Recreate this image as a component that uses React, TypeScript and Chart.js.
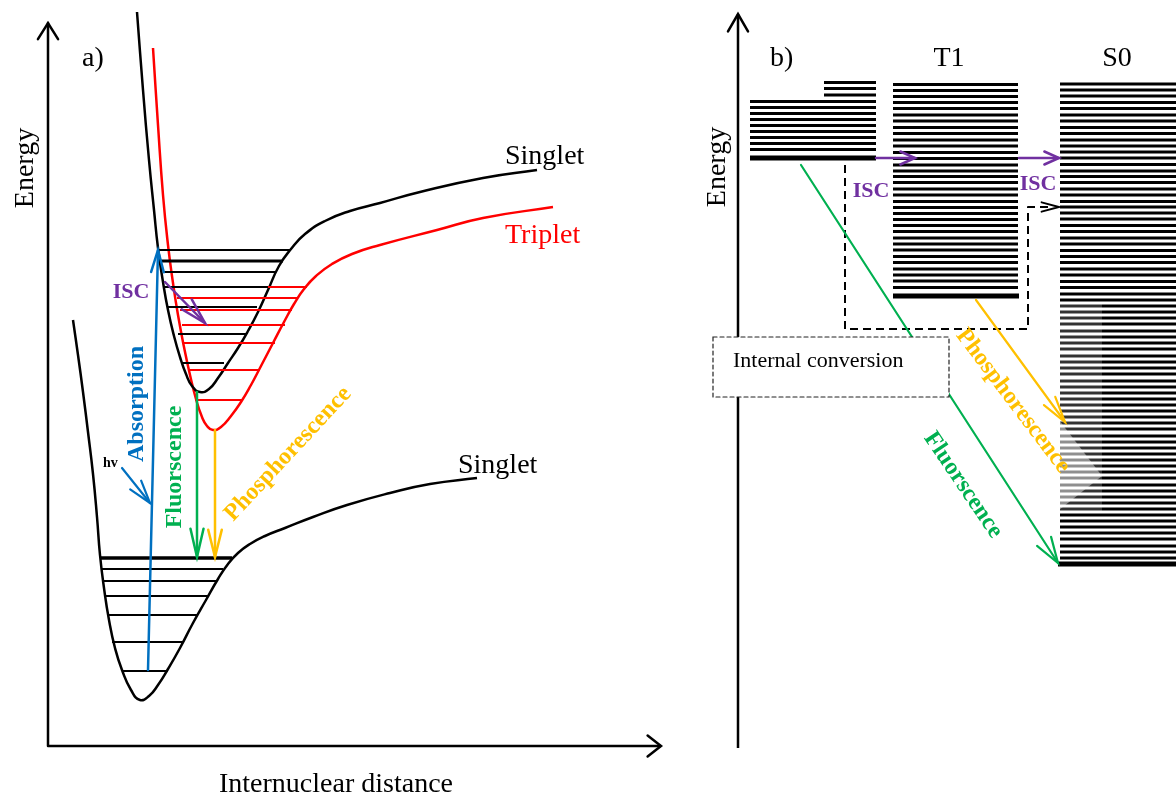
import React, { useEffect, useRef } from 'react';
import { Chart, registerables } from 'chart.js';

Chart.register(...registerables);

const W = 1176;
const H = 796;
const FONT = "'Liberation Serif','Times New Roman',serif";

const RED = '#FF0000';
const BLUE = '#0070C0';
const GREEN = '#00B050';
const YELLOW = '#FFC000';
const PURPLE = '#7030A0';

// ---------- Panel a: potential energy curves (x = internuclear distance, y = energy, top-down) ----------
const S1_CURVE: number[][] = [
  [137, 12], [143, 90], [149, 160], [154, 210], [158, 248], [163, 282], [168, 310], [174, 336],
  [180, 357], [186, 374], [192, 386], [200, 392], [209, 389], [218, 378], [228, 363],
  [238, 348], [248, 331], [258, 312], [268, 290], [279, 266], [291, 249], [305, 234], [325, 221],
  [350, 211], [380, 203], [420, 192], [483, 178], [537, 170],
];
const T1_CURVE: number[][] = [
  [153, 48], [158, 125], [163, 195], [168, 245], [173, 283], [178, 315], [184, 347], [190, 375],
  [196, 399], [202, 417], [207, 426], [213, 430], [221, 427], [231, 416], [241, 402],
  [251, 385], [261, 366], [273, 343], [284, 322], [294, 304], [304, 289], [316, 276],
  [332, 264], [352, 254], [380, 245], [437, 230], [483, 218], [553, 207],
];
const S0_CURVE: number[][] = [
  [73, 320], [78, 355], [83, 392], [88, 432], [93, 474], [97, 517], [100, 555], [104, 588],
  [109, 620], [115, 648], [122, 670], [131, 690], [140, 700], [149, 696], [158, 685],
  [168, 669], [180, 648], [193, 623], [206, 600], [218, 579], [228, 564], [238, 553], [250, 544],
  [265, 536], [285, 528], [313, 517], [347, 505], [390, 493], [430, 484], [477, 478],
];

// vibrational levels: [energy, xLeft, xRight]
const S1_LEVELS: number[][] = [
  [250, 158, 291], [272, 163, 276], [287, 164, 268], [307, 168, 257], [334, 178, 247], [363, 182, 224],
];
const S1_LEVELS_THICK: number[][] = [[261, 160, 283]];
const T1_LEVELS: number[][] = [
  [287, 175, 307], [298, 177, 298], [310, 180, 292], [325, 182, 285], [343, 183, 275], [370, 188, 260], [400, 195, 242],
];
const S0_LEVELS: number[][] = [
  [569, 102, 223], [581, 103, 217], [596, 105, 208], [615, 108, 197], [642, 112, 183], [671, 122, 168],
];
const S0_LEVELS_THICK: number[][] = [[558, 100, 232]];

// ---------- Panel b: level stacks (energies) ----------
const B_S1_SHORT = [82.5, 88.5, 95];
const B_S1 = [101.5, 107.5, 113.5, 119.5, 125.5, 131.5, 137.5, 143.5, 149.5];
const B_S1_BOTTOM = [158];
const B_T1 = [
  84.5, 90.5, 96.5, 102.5, 108.5, 115, 121, 127.5, 133.5, 140, 146, 152.5, 158.5, 165, 171, 176.5,
  182.5, 189, 195, 201.5, 207.5, 213.5, 219.5, 225.5, 231.5, 238, 244, 250, 256.5, 262.5, 269, 275,
  281, 287.5,
];
const B_T1_BOTTOM = [296];
const B_S0 = [
  84, 90, 96, 102.5, 108.5, 115, 121, 127.5, 133.5, 140, 146, 152, 158, 164.5, 171, 176.5, 182.5,
  189, 195, 201.5, 207, 213, 219, 225.5, 231.5, 238, 244, 250.5, 256.5, 262.5, 269, 275, 281.5,
  287.5, 294, 300, 306, 312, 318, 324, 331, 337, 343, 349, 356, 362, 368, 374, 381, 387, 393, 399,
  405, 411, 417, 423, 429, 436, 442, 448, 454, 460, 466, 472, 478, 485, 491, 497, 503, 509, 515,
  521, 527, 533, 539, 546, 552, 558,
];
const B_S0_BOTTOM = [564];

// ---------- axes, paths ----------
const AXIS_A: number[][] = [[48, 23], [48, 746], [661, 746]];
const AXIS_B: number[][] = [[738, 748], [738, 14]];
const IC_PATH: number[][] = [[845, 165], [845, 329], [1028, 329], [1028, 207], [1052, 207]];

// arrows: from -> to
const ARROWS = [
  { from: [48, 40], to: [48, 23], color: '#000', w: 2.5, len: 19, ang: 32, noShaft: true },
  { from: [640, 746], to: [661, 746], color: '#000', w: 2.5, len: 17, ang: 38, noShaft: true },
  { from: [738, 40], to: [738, 14], color: '#000', w: 2.5, len: 20, ang: 30, noShaft: true },
  { from: [148, 670], to: [158, 250], color: BLUE, w: 2.5, len: 23, ang: 16 },
  { from: [122, 468], to: [150, 503], color: BLUE, w: 2.2, len: 24, ang: 17 },
  { from: [165, 282], to: [205, 323], color: PURPLE, w: 2.5, len: 27, ang: 15 },
  { from: [197, 392], to: [197, 557], color: GREEN, w: 2.5, len: 29, ang: 13 },
  { from: [215, 430], to: [215, 557], color: YELLOW, w: 2.5, len: 28, ang: 14 },
  { from: [876, 158], to: [915, 158], color: PURPLE, w: 2.5, len: 16, ang: 24 },
  { from: [1019, 158], to: [1059, 158], color: PURPLE, w: 2.5, len: 16, ang: 24 },
  { from: [1045, 207], to: [1059, 207], color: '#000', w: 2, len: 18, ang: 15, noShaft: true },
  { from: [801, 165], to: [1058, 563], color: GREEN, w: 2.2, len: 27, ang: 18 },
  { from: [976, 300], to: [1065, 422], color: YELLOW, w: 2.2, len: 27, ang: 15 },
];

const LABELS = [
  { t: 'a)', x: 82, y: 66, size: 28, align: 'left' },
  { t: 'Energy', x: 33, y: 168, size: 28, rot: -90 },
  { t: 'Internuclear distance', x: 336, y: 792, size: 28 },
  { t: 'Singlet', x: 505, y: 164, size: 28, align: 'left' },
  { t: 'Triplet', x: 505, y: 243, size: 28, align: 'left', color: RED },
  { t: 'Singlet', x: 458, y: 473, size: 28, align: 'left' },
  { t: 'ISC', x: 131, y: 298, size: 22, bold: true, color: PURPLE },
  { t: 'Absorption', x: 143, y: 404, size: 24, bold: true, color: BLUE, rot: -90 },
  { t: 'Fluorscence', x: 181, y: 467, size: 24, bold: true, color: GREEN, rot: -90 },
  { t: 'Phosphorescence', x: 288, y: 454, size: 24, bold: true, color: YELLOW, rot: -47, mid: true },
  { t: 'hv', x: 103, y: 467, size: 14, bold: true, align: 'left' },
  { t: 'b)', x: 770, y: 66, size: 28, align: 'left' },
  { t: 'T1', x: 949, y: 66, size: 28 },
  { t: 'S0', x: 1117, y: 66, size: 28 },
  { t: 'Energy', x: 725, y: 167, size: 28, rot: -90 },
  { t: 'ISC', x: 871, y: 197, size: 22, bold: true, color: PURPLE },
  { t: 'ISC', x: 1038, y: 190, size: 22, bold: true, color: PURPLE },
  { t: 'Internal conversion', x: 733, y: 367, size: 22, align: 'left' },
  { t: 'Fluorscence', x: 963, y: 485, size: 24, bold: true, color: GREEN, rot: 56, mid: true },
  { t: 'Phosphorescence', x: 1013, y: 401, size: 24, bold: true, color: YELLOW, rot: 53, mid: true },
];

const IC_BOX = [713, 337, 949, 397];

function curve(pts: number[][], color: string, width: number) {
  return {
    data: pts.map(([x, y]) => ({ x, y })),
    showLine: true, borderColor: color, borderWidth: width, pointRadius: 0,
    tension: 0.5, fill: false, borderJoinStyle: 'round',
  };
}

function levels(lv: number[][], color: string, width: number) {
  const data: any[] = [];
  lv.forEach(([y, x0, x1]) => {
    data.push({ x: x0, y }, { x: x1, y }, { x: x1, y: null });
  });
  return { data, showLine: true, borderColor: color, borderWidth: width, pointRadius: 0, tension: 0, spanGaps: false, fill: false };
}

function stack(ys: number[], x0: number, x1: number, color: string, width: number) {
  return levels(ys.map((y) => [y, x0, x1]), color, width);
}

const annotPlugin = {
  id: 'annot',
  afterDatasetsDraw(chart: any) {
    const ctx = chart.ctx as CanvasRenderingContext2D;
    const sx = chart.scales.x;
    const sy = chart.scales.y;
    const px = (v: number) => sx.getPixelForValue(v);
    const py = (v: number) => sy.getPixelForValue(v);
    ctx.save();

    // fade over part of the S0 stack
    ctx.fillStyle = 'rgba(255,255,255,0.2)';
    ctx.fillRect(px(1059), py(303), px(1102) - px(1059), py(512) - py(303));
    ctx.fillStyle = 'rgba(255,255,255,0.45)';
    ctx.beginPath();
    ctx.moveTo(px(1059), py(420));
    ctx.lineTo(px(1102), py(476));
    ctx.lineTo(px(1059), py(510));
    ctx.closePath();
    ctx.fill();

    // arrows
    ctx.lineCap = 'round';
    ARROWS.forEach((a: any) => {
      const x0 = px(a.from[0]), y0 = py(a.from[1]);
      const x1 = px(a.to[0]), y1 = py(a.to[1]);
      ctx.strokeStyle = a.color;
      ctx.lineWidth = a.w;
      if (!a.noShaft) {
        ctx.beginPath();
        ctx.moveTo(x0, y0);
        ctx.lineTo(x1, y1);
        ctx.stroke();
      }
      const th = Math.atan2(y0 - y1, x0 - x1);
      const ang = (a.ang * Math.PI) / 180;
      ctx.beginPath();
      ctx.moveTo(x1 + a.len * Math.cos(th + ang), y1 + a.len * Math.sin(th + ang));
      ctx.lineTo(x1, y1);
      ctx.lineTo(x1 + a.len * Math.cos(th - ang), y1 + a.len * Math.sin(th - ang));
      ctx.stroke();
    });

    // internal conversion box
    const [bx0, by0, bx1, by1] = IC_BOX;
    ctx.fillStyle = '#fff';
    ctx.fillRect(px(bx0), py(by0), px(bx1) - px(bx0), py(by1) - py(by0));
    ctx.setLineDash([4, 3]);
    ctx.lineWidth = 1.2;
    ctx.strokeStyle = '#222';
    ctx.strokeRect(px(bx0), py(by0), px(bx1) - px(bx0), py(by1) - py(by0));
    ctx.setLineDash([]);

    // labels
    LABELS.forEach((l: any) => {
      ctx.save();
      ctx.translate(px(l.x), py(l.y));
      if (l.rot) ctx.rotate((l.rot * Math.PI) / 180);
      ctx.font = `${l.bold ? 'bold ' : ''}${l.size}px ${FONT}`;
      ctx.fillStyle = l.color || '#000';
      ctx.textAlign = l.align || 'center';
      ctx.textBaseline = l.mid ? 'middle' : 'alphabetic';
      ctx.fillText(l.t, 0, 0);
      ctx.restore();
    });
    ctx.restore();
  },
};

export default function App() {
  const ref = useRef<HTMLCanvasElement | null>(null);
  useEffect(() => {
    if (!ref.current) return;
    const datasets: any[] = [
      { ...curve(AXIS_A, '#000', 2.5), tension: 0 },
      { ...curve(AXIS_B, '#000', 2.5), tension: 0 },
      stack(B_S1_SHORT, 824, 876, '#000', 3),
      stack(B_S1, 750, 876, '#000', 3),
      stack(B_S1_BOTTOM, 750, 876, '#000', 5),
      stack(B_T1, 893, 1018, '#000', 3),
      stack(B_T1_BOTTOM, 893, 1019, '#000', 5),
      stack(B_S0, 1060, W, '#000', 3),
      stack(B_S0_BOTTOM, 1058, W, '#000', 5),
      { ...curve(IC_PATH, '#000', 2), tension: 0, borderDash: [8, 5] },
      levels(S1_LEVELS, '#000', 2),
      levels(S1_LEVELS_THICK, '#000', 3),
      levels(S0_LEVELS, '#000', 2),
      levels(S0_LEVELS_THICK, '#000', 3.5),
      levels(T1_LEVELS, RED, 2),
      curve(S1_CURVE, '#000', 2.5),
      curve(T1_CURVE, RED, 2.5),
      curve(S0_CURVE, '#000', 2.5),
    ];
    const chart = new Chart(ref.current, {
      type: 'scatter',
      data: { datasets },
      options: {
        animation: false,
        responsive: false,
        maintainAspectRatio: false,
        devicePixelRatio: 1,
        events: [],
        layout: { padding: 0 },
        plugins: { legend: { display: false }, tooltip: { enabled: false } },
        scales: {
          x: { type: 'linear', min: 0, max: W, display: false },
          y: { type: 'linear', min: 0, max: H, reverse: true, display: false },
        },
      },
      plugins: [annotPlugin],
    } as any);
    return () => chart.destroy();
  }, []);
  return (
    <div style={{ position: 'fixed', left: 0, top: 0, width: W, height: H, background: '#fff' }}>
      <canvas ref={ref} width={W} height={H} style={{ display: 'block', width: W, height: H }} />
    </div>
  );
}
